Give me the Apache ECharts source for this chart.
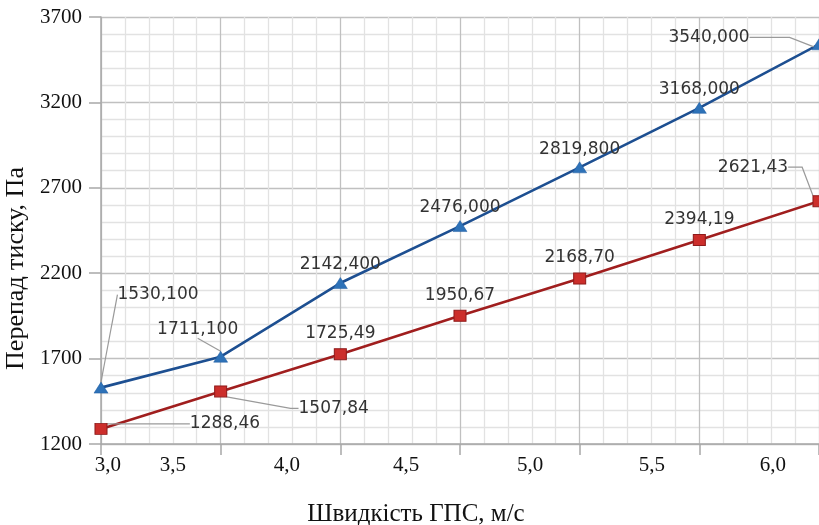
<!DOCTYPE html>
<html><head><meta charset="utf-8">
<script src="https://cdn.jsdelivr.net/npm/echarts@6/dist/echarts.min.js"></script>
<style>html,body{margin:0;padding:0;background:#fff}#c{width:819px;height:525px}</style>
</head><body><div id="c"></div>
<script>
// ---- data ----
const categories = ['3,0', '3,5', '4,0', '4,5', '5,0', '5,5', '6,0'];
const xTickLabels = ['3,0', '3,5', '4,0', '4,5', '5,0', '5,5', '6,0'];
const blueValues = [1530.1, 1711.1, 2142.4, 2476.0, 2819.8, 3168.0, 3540.0];
const redValues = [1288.46, 1507.84, 1725.49, 1950.67, 2168.70, 2394.19, 2621.43];
const yMin = 1200, yMax = 3700, yStep = 500;

// ---- layout config (label placement only): [dx, dy, leader length] ----
const xLabelPositions = [0.058, 0.60, 1.554, 2.549, 3.585, 4.604, 5.615];
const blueCallouts = {0: [57, -93, 0], 1: [-23, -27, 0], 6: [-110, -7, 40]};
const redCallouts = {0: [124, -5, 4], 1: [113, 17, 8], 6: [-66, -34, 14]};

const fmt = (d) => (v) => v.toFixed(d).replace('.', ',');

function buildData(values, callouts) {
  return values.map((v, i) => callouts[i]
    ? {value: v, labelLine: {show: true, length2: callouts[i][2]}}
    : v);
}
function layoutFor(callouts) {
  return function (p) {
    const c = callouts[p.dataIndex];
    if (!c) return {};
    const cx = p.rect.x + p.rect.width / 2;
    const cy = p.rect.y + p.rect.height / 2;
    return {x: cx + c[0], y: cy + c[1], align: 'center', verticalAlign: 'middle'};
  };
}

const labelFont = {fontFamily: 'DejaVu Sans', fontSize: 17, color: '#333333'};
const serif = 'Liberation Serif';

const chart = echarts.init(document.getElementById('c'), null, {renderer: 'canvas'});
chart.setOption({
  animation: false,
  backgroundColor: '#ffffff',
  grid: {left: 101, right: 0, top: 17, bottom: 81, containLabel: false, outerBoundsMode: 'none'},
  xAxis: [{
    type: 'category',
    data: categories,
    boundaryGap: false,
    position: 'bottom',
    axisLine: {show: true, lineStyle: {color: '#a8a8a8', width: 1.5}},
    axisTick: {show: true, inside: false, length: 11, lineStyle: {color: '#a8a8a8', width: 1.5}},
    axisLabel: {show: false},
    splitLine: {show: false},
    name: 'Швидкість ГПС, м/с',
    nameLocation: 'middle',
    nameGap: 58,
    nameTextStyle: {fontFamily: serif, fontSize: 25, color: '#111', padding: [0, 88, 0, 0]}
  }, {
    type: 'value',
    min: 0, max: 6, interval: 1,
    position: 'bottom',
    axisLine: {show: false},
    axisTick: {show: false},
    axisLabel: {
      show: true,
      customValues: xLabelPositions,
      formatter: (v) => {
        let best = 0;
        xLabelPositions.forEach((p, i) => { if (Math.abs(p - v) < Math.abs(xLabelPositions[best] - v)) best = i; });
        return xTickLabels[best];
      },
      margin: 11,
      fontFamily: serif, fontSize: 21, color: '#111'
    },
    splitLine: {show: true, lineStyle: {color: '#c0c0c0', width: 1.3}},
    minorTick: {show: false, splitNumber: 5},
    minorSplitLine: {show: true, lineStyle: {color: '#e2e2e2', width: 1.3}}
  }],
  yAxis: {
    type: 'value',
    min: yMin, max: yMax, interval: yStep,
    axisLine: {show: true, lineStyle: {color: '#a8a8a8', width: 1.5}},
    axisTick: {show: true, inside: false, length: 12, lineStyle: {color: '#a8a8a8', width: 1.5}},
    axisLabel: {margin: 19, fontFamily: serif, fontSize: 21, color: '#111', formatter: (v) => String(v)},
    splitLine: {show: true, lineStyle: {color: '#c0c0c0', width: 1.3}},
    minorTick: {show: false, splitNumber: 5},
    minorSplitLine: {show: true, lineStyle: {color: '#e2e2e2', width: 1.3}},
    name: 'Перепад тиску, Па',
    nameLocation: 'middle',
    nameGap: 66,
    nameTextStyle: {fontFamily: serif, fontSize: 26, color: '#111', padding: [0, 76, 0, 0]}
  },
  series: [{
    name: 'blue',
    type: 'line',
    data: buildData(blueValues, blueCallouts),
    symbol: 'triangle',
    symbolSize: [14, 11],
    lineStyle: {color: '#1d4f91', width: 2.6},
    itemStyle: {color: '#2e72b8', borderColor: '#1d5aa0', borderWidth: 0.5},
    label: Object.assign({show: true, position: 'top', distance: 4, formatter: (p) => fmt(3)(p.value)}, labelFont),
    labelLine: {show: false, lineStyle: {color: '#9a9a9a', width: 1.2}},
    labelLayout: layoutFor(blueCallouts),
    z: 3
  }, {
    name: 'red',
    type: 'line',
    data: buildData(redValues, redCallouts),
    symbol: 'rect',
    symbolSize: [12, 11],
    lineStyle: {color: '#a01e1e', width: 2.6},
    itemStyle: {color: '#cc2e2b', borderColor: '#8f1b1b', borderWidth: 1},
    label: Object.assign({show: true, position: 'top', distance: 6, formatter: (p) => fmt(2)(p.value)}, labelFont),
    labelLine: {show: false, lineStyle: {color: '#9a9a9a', width: 1.2}},
    labelLayout: layoutFor(redCallouts),
    z: 3
  }]
});
</script></body></html>
